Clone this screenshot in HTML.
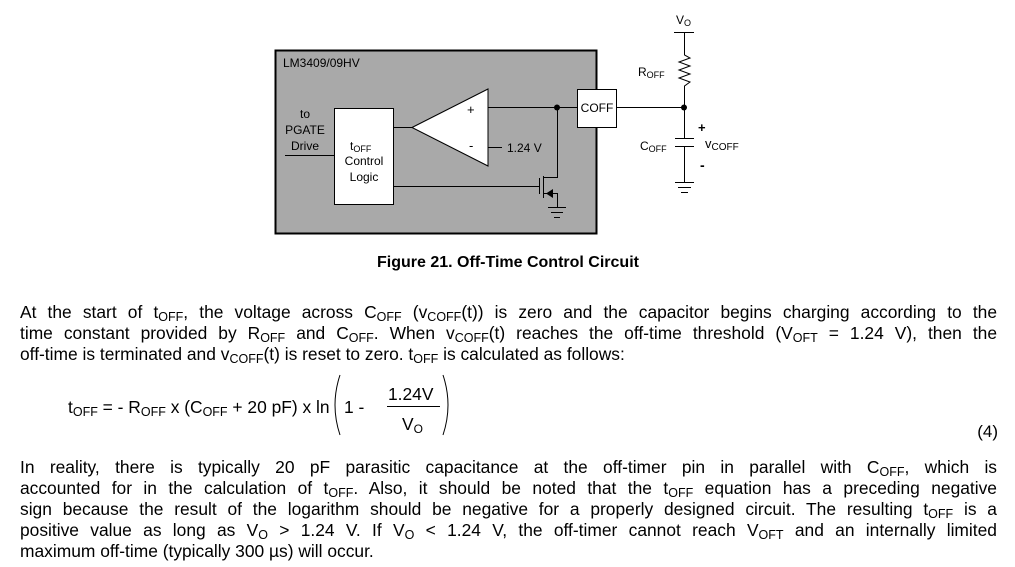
<!DOCTYPE html>
<html><head><meta charset="utf-8"><style>
body{margin:0;width:1015px;height:567px;background:#fff;position:relative;overflow:hidden;font-family:"Liberation Sans",Arial,sans-serif;color:#000}
.l{position:absolute;left:20px;width:977px;font-size:17.4px;line-height:21px;white-space:nowrap}
.j{text-align:justify;text-align-last:justify}
s{text-decoration:none;font-size:12.5px;position:relative;top:3px}
</style></head><body>
<svg width="1015" height="290" style="position:absolute;left:0;top:0" font-family="Liberation Sans,Arial,sans-serif">
<rect x="275.5" y="50.5" width="321" height="183" fill="#a9a9a9" stroke="#000" stroke-width="2"/>
<text x="283" y="67" font-size="12">LM3409/09HV</text>
<rect x="334.5" y="108.5" width="59" height="96" fill="#fff" stroke="#000"/>
<text font-size="12" text-anchor="middle"><tspan x="305" y="118">to</tspan><tspan x="305" y="134">PGATE</tspan><tspan x="305" y="150">Drive</tspan></text>
<line x1="285" y1="155.5" x2="334" y2="155.5" stroke="#000"/>
<text x="350" y="150" font-size="12">t<tspan font-size="9" dy="2">OFF</tspan></text>
<text font-size="12" text-anchor="middle"><tspan x="364" y="165">Control</tspan><tspan x="364" y="181">Logic</tspan></text>
<line x1="393" y1="127.5" x2="413" y2="127.5" stroke="#000"/>
<polygon points="412,127.5 488,89 488,166" fill="#fff" stroke="#000"/>
<text x="467" y="114" font-size="13">+</text><text x="469" y="150" font-size="13">-</text>
<line x1="488" y1="107.5" x2="577" y2="107.5" stroke="#000"/>
<line x1="488" y1="147.5" x2="502" y2="147.5" stroke="#000"/>
<text x="507" y="152" font-size="12">1.24 V</text>
<circle cx="557" cy="107.5" r="3" fill="#000"/>
<line x1="557.5" y1="107" x2="557.5" y2="177" stroke="#000"/>
<line x1="543" y1="177.5" x2="558" y2="177.5" stroke="#000"/>
<line x1="393" y1="186.5" x2="539" y2="186.5" stroke="#000"/>
<line x1="539.5" y1="178" x2="539.5" y2="194" stroke="#000"/>
<line x1="543.5" y1="176" x2="543.5" y2="198" stroke="#000"/>
<line x1="543" y1="193.5" x2="557" y2="193.5" stroke="#000"/>
<polygon points="546,193.5 553,189 553,198" fill="#000"/>
<line x1="557.5" y1="193" x2="557.5" y2="207" stroke="#000"/>
<line x1="548" y1="207.5" x2="566" y2="207.5" stroke="#000"/><line x1="551" y1="212.5" x2="563" y2="212.5" stroke="#000"/><line x1="554" y1="217.5" x2="560" y2="217.5" stroke="#000"/>
<rect x="577.5" y="89.5" width="39" height="38" fill="#fff" stroke="#000"/>
<text x="597" y="112" font-size="12" text-anchor="middle">COFF</text>
<line x1="616" y1="107.5" x2="684" y2="107.5" stroke="#000"/>
<circle cx="684" cy="107.5" r="3" fill="#000"/>
<text x="676" y="24" font-size="12">V<tspan font-size="9" dy="2">O</tspan></text>
<line x1="674" y1="32.5" x2="694" y2="32.5" stroke="#000"/>
<polyline points="684.5,32 684.5,55 690,58 679,62 690,66 679,70 690,74 679,78 690,82 684.5,86 684.5,138" fill="none" stroke="#000"/>
<text x="638" y="76" font-size="12">R<tspan font-size="9" dy="2">OFF</tspan></text>
<line x1="675" y1="138.5" x2="694" y2="138.5" stroke="#000"/><line x1="675" y1="146.5" x2="694" y2="146.5" stroke="#000"/>
<line x1="684.5" y1="146" x2="684.5" y2="182" stroke="#000"/>
<line x1="675" y1="182.5" x2="694" y2="182.5" stroke="#000"/><line x1="678" y1="187.5" x2="691" y2="187.5" stroke="#000"/><line x1="681" y1="192.5" x2="688" y2="192.5" stroke="#000"/>
<text x="640" y="150" font-size="12">C<tspan font-size="9" dy="2">OFF</tspan></text>
<text x="698" y="132" font-size="13" font-weight="bold">+</text>
<text x="705" y="148" font-size="13">v<tspan font-size="10" dy="2">COFF</tspan></text>
<text x="700" y="170" font-size="14" font-weight="bold">-</text>
<text x="508" y="267" font-size="16" font-weight="bold" text-anchor="middle">Figure 21.  Off-Time Control Circuit</text>
</svg>
<div class="l j" style="top:302px">At the start of t<s>OFF</s>, the voltage across C<s>OFF</s> (v<s>COFF</s>(t)) is zero and the capacitor begins charging according to the</div>
<div class="l j" style="top:323px">time constant provided by R<s>OFF</s> and C<s>OFF</s>. When v<s>COFF</s>(t) reaches the off-time threshold (V<s>OFT</s> = 1.24 V), then the</div>
<div class="l" style="top:344px">off-time is terminated and v<s>COFF</s>(t) is reset to zero. t<s>OFF</s> is calculated as follows:</div>
<div style="position:absolute;left:68px;top:385px;font-size:17.4px;line-height:44px;white-space:nowrap">t<s>OFF</s> = - R<s>OFF</s> x (C<s>OFF</s> + 20 pF) x ln</div>
<svg width="125" height="66" style="position:absolute;left:330px;top:372px" font-family="Liberation Sans,Arial,sans-serif">
<path d="M10,3 Q0,33 10,63" fill="none" stroke="#000"/><path d="M113,3 Q123,33 113,63" fill="none" stroke="#000"/>
<text x="14" y="41" font-size="17.4px">1 -</text>
<text x="58" y="28" font-size="17.4px">1.24V</text>
<line x1="57" y1="34.5" x2="110" y2="34.5" stroke="#000"/>
<text x="72" y="58" font-size="17.4px">V<tspan font-size="12px" dy="3">O</tspan></text>
</svg>
<div style="position:absolute;left:960px;top:422px;font-size:17px;width:38px;text-align:right">(4)</div>
<div class="l j" style="top:457px">In reality, there is typically 20 pF parasitic capacitance at the off-timer pin in parallel with C<s>OFF</s>, which is</div>
<div class="l j" style="top:478px">accounted for in the calculation of t<s>OFF</s>. Also, it should be noted that the t<s>OFF</s> equation has a preceding negative</div>
<div class="l j" style="top:499px">sign because the result of the logarithm should be negative for a properly designed circuit. The resulting t<s>OFF</s> is a</div>
<div class="l j" style="top:520px">positive value as long as V<s>O</s> &gt; 1.24 V. If V<s>O</s> &lt; 1.24 V, the off-timer cannot reach V<s>OFT</s> and an internally limited</div>
<div class="l" style="top:541px">maximum off-time (typically 300 µs) will occur.</div>
</body></html>
